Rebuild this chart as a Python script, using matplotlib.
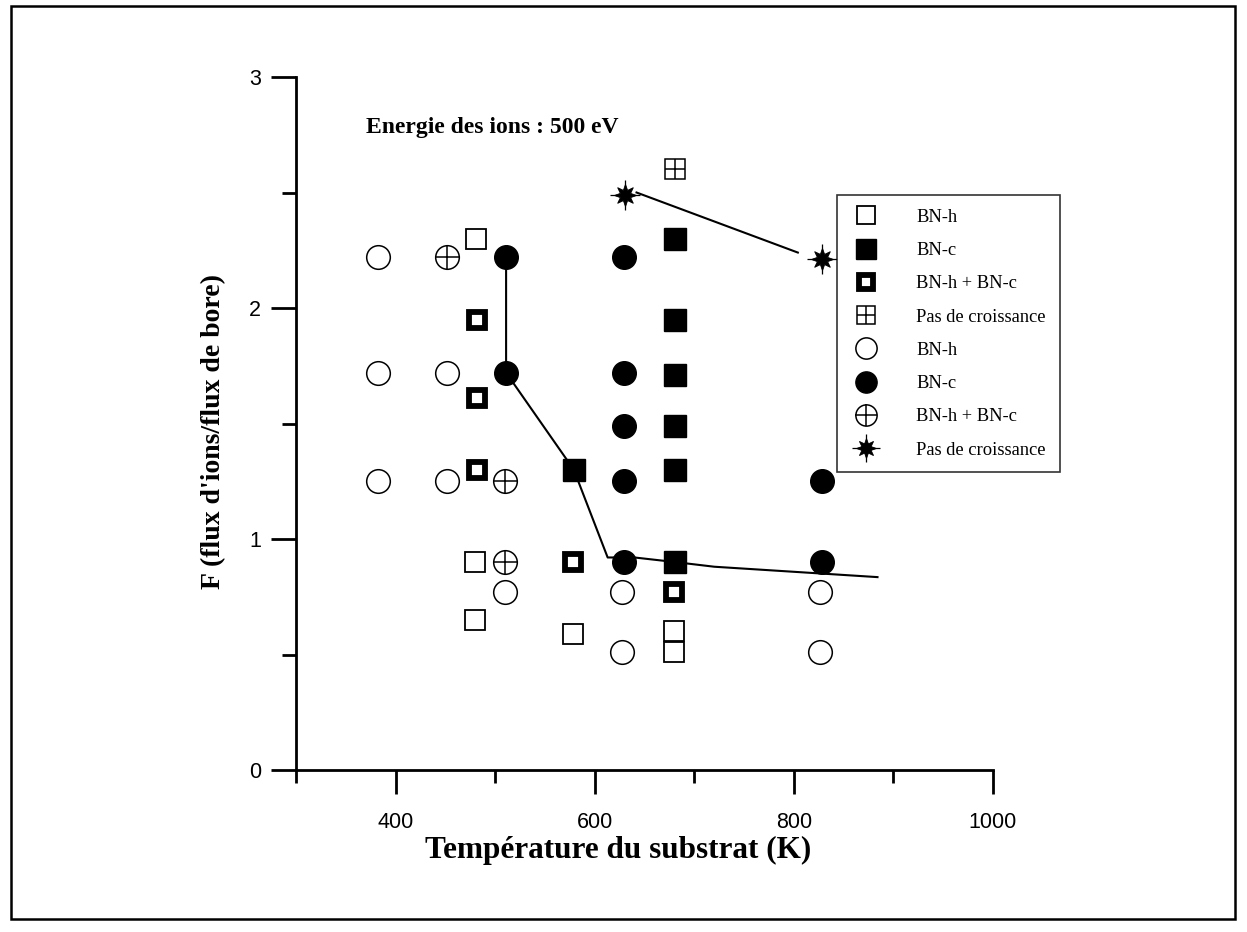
import matplotlib.pyplot as plt
from matplotlib.patches import Rectangle

# --- data (T in K, F = ion flux / boron flux) ---
sq_open_T = [481, 480, 480, 578, 680, 680]
sq_open_F = [2.30, 0.90, 0.65, 0.59, 0.60, 0.51]

sq_fill_T = [579, 681, 681, 681, 681, 681, 681]
sq_fill_F = [1.30, 2.30, 1.95, 1.71, 1.49, 1.30, 0.90]

sq_mix_T = [482, 482, 482, 578, 680]
sq_mix_F = [1.95, 1.61, 1.30, 0.90, 0.77]

sq_none_T = [681]
sq_none_F = [2.60]

ci_open_T = [382, 382, 382, 452, 452, 510, 627, 627, 826, 826]
ci_open_F = [2.22, 1.72, 1.25, 1.72, 1.25, 0.77, 0.77, 0.51, 0.77, 0.51]

ci_fill_T = [511, 511, 629, 629, 629, 629, 629, 828, 828]
ci_fill_F = [2.22, 1.72, 2.22, 1.72, 1.49, 1.25, 0.90, 1.25, 0.90]

ci_mix_T = [452, 510, 510]
ci_mix_F = [2.22, 1.25, 0.90]

star_T = [630, 828]
star_F = [2.49, 2.21]

# boundary lines
line1_T = [511, 511, 579, 613, 640, 681, 720, 884]
line1_F = [2.22, 1.72, 1.30, 0.92, 0.92, 0.90, 0.88, 0.835]
line2_T = [642, 804]
line2_F = [2.50, 2.24]

serif = 'Liberation Serif'
sans = 'Liberation Sans'

fig = plt.figure(figsize=(12.47, 9.32), dpi=100)
ax = fig.add_axes([296 / 1247, 1 - 770 / 932, 697 / 1247, 693 / 932])

ax.plot(line1_T, line1_F, color='black', lw=1.5, zorder=1)
ax.plot(line2_T, line2_F, color='black', lw=1.5, zorder=1)

k = dict(ls='none', color='black', zorder=3)
h1, = ax.plot(sq_open_T, sq_open_F, marker='s', ms=15, mfc='white', mec='black', mew=1.3, **k)
h2, = ax.plot(sq_fill_T, sq_fill_F, marker='s', ms=16, mfc='black', mec='black', mew=1, **k)
h3, = ax.plot(sq_mix_T, sq_mix_F, marker='s', ms=11.5, mfc='white', mec='black', mew=4.2, **k)
h4a, = ax.plot(sq_none_T, sq_none_F, marker='s', ms=14, mfc='white', mec='black', mew=1.1, **k)
h4b, = ax.plot(sq_none_T, sq_none_F, marker='+', ms=14, mec='black', mew=1.1, **k)
h5, = ax.plot(ci_open_T, ci_open_F, marker='o', ms=17, mfc='white', mec='black', mew=1.1, **k)
h6, = ax.plot(ci_fill_T, ci_fill_F, marker='o', ms=17, mfc='black', mec='black', mew=1, **k)
h7a, = ax.plot(ci_mix_T, ci_mix_F, marker='o', ms=17, mfc='white', mec='black', mew=1.1, **k)
h7b, = ax.plot(ci_mix_T, ci_mix_F, marker='+', ms=17, mec='black', mew=1.1, **k)
h8a, = ax.plot(star_T, star_F, marker=(8, 1, 0), ms=16, mfc='black', mec='black', mew=0.6, **k)
h8b, = ax.plot(star_T, star_F, marker='+', ms=22, mec='black', mew=0.9, **k)

ax.set_xlim(300, 1000)
ax.set_ylim(0, 3)
ax.spines['top'].set_visible(False)
ax.spines['right'].set_visible(False)
ax.spines['left'].set_linewidth(2)
ax.spines['bottom'].set_linewidth(2)
ax.set_xticks([400, 600, 800, 1000])
ax.set_xticks([300, 500, 700, 900], minor=True)
ax.set_yticks([0, 1, 2, 3])
ax.set_yticks([0.5, 1.5, 2.5], minor=True)
ax.tick_params(which='major', direction='out', width=2, labelsize=15.5, labelfontfamily=sans)
ax.tick_params(axis='x', which='major', length=17, pad=13)
ax.tick_params(axis='x', which='minor', length=9, width=2)
ax.tick_params(axis='y', which='major', length=18, pad=7)
ax.tick_params(axis='y', which='minor', length=10, width=2)

ax.set_xlabel('Température du substrat (K)', family=serif, weight='bold', fontsize=22.5)
ax.xaxis.set_label_coords(0.462, -0.095)
ax.set_ylabel("F (flux d'ions/flux de bore)", family=serif, weight='bold', fontsize=20)
ax.yaxis.set_label_coords(-0.100, 0.488)
ax.text(370, 2.78, 'Energie des ions : 500 eV', family=serif, weight='bold', fontsize=17,
        ha='left', va='center')

handles = [h1, h2, h3, (h4a, h4b), h5, h6, (h7a, h7b), (h8a, h8b)]
labels = ['BN-h', 'BN-c', 'BN-h + BN-c', 'Pas de croissance',
          'BN-h', 'BN-c', 'BN-h + BN-c', 'Pas de croissance']
leg = fig.legend(handles, labels, loc='upper left', bbox_to_anchor=(837 / 1247, 1 - 195 / 932),
                 prop={'family': serif, 'size': 13.3}, frameon=True, fancybox=False,
                 edgecolor='black', borderpad=0.75, handlelength=1.65, handletextpad=1.9,
                 labelspacing=0.88, markerscale=0.9, borderaxespad=0)
leg.get_frame().set_linewidth(1.2)

# outer frame
fig.patches.append(Rectangle((11 / 1247, 1 - 919 / 932), 1224 / 1247, 913 / 932,
                             transform=fig.transFigure, fill=False, lw=1.8, ec='black'))

fig.savefig('out.png', dpi=100)
